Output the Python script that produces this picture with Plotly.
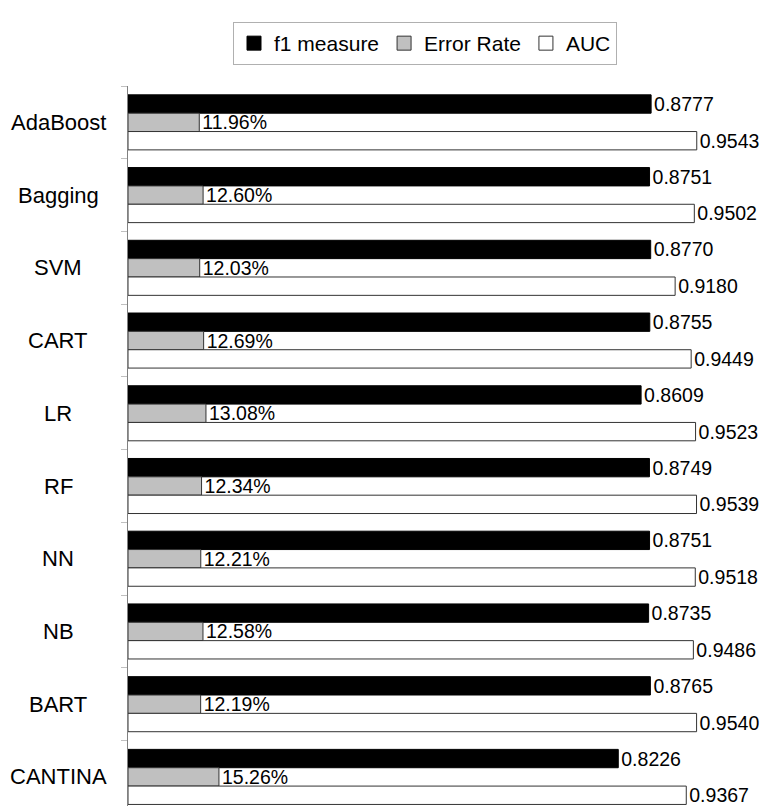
import plotly.graph_objects as go

# Classifier comparison: F1, error rate and AUC per method
methods = ["AdaBoost", "Bagging", "SVM", "CART", "LR", "RF", "NN", "NB", "BART", "CANTINA"]
f1_measure = [0.8777, 0.8751, 0.8770, 0.8755, 0.8609, 0.8749, 0.8751, 0.8735, 0.8765, 0.8226]
error_rate = [0.1196, 0.1260, 0.1203, 0.1269, 0.1308, 0.1234, 0.1221, 0.1258, 0.1219, 0.1526]
auc = [0.9543, 0.9502, 0.9180, 0.9449, 0.9523, 0.9539, 0.9518, 0.9486, 0.9540, 0.9367]

series_names = ["f1 measure", "Error Rate", "AUC"]
fill_colors = ["black", "#c0c0c0", "white"]
edge_colors = ["black", "#333333", "#333333"]
formats = ["%{x:.4f}", "%{x:.2%}", "%{x:.4f}"]

FONT = "Liberation Sans, Arial, sans-serif"
VALUE_FONT = dict(family=FONT, size=19.5, color="black")

fig = go.Figure()
for name, vals, fc, ec, fmt in zip(series_names, [f1_measure, error_rate, auc],
                                   fill_colors, edge_colors, formats):
    fig.add_trace(go.Bar(
        name=name, y=methods, x=vals, orientation="h",
        marker=dict(color=fc, line=dict(color=ec, width=1)),
        texttemplate=fmt, textposition="outside", textfont=VALUE_FONT,
        constraintext="none", cliponaxis=False, showlegend=False,
    ))
# Legend entries with larger square swatches
for name, fc, ec in zip(series_names, fill_colors, edge_colors):
    fig.add_trace(go.Scatter(
        name=name, x=[None], y=[None], mode="markers",
        marker=dict(symbol="square", size=14, color=fc, line=dict(color=ec, width=1)),
        showlegend=True,
    ))

# Category names centred in the left margin
for m in methods:
    fig.add_annotation(
        x=0, xref="paper", y=m, yref="y", text=m, showarrow=False,
        xanchor="center", xshift=-70,
        font=dict(family=FONT, size=22, color="black"),
    )

fig.update_layout(
    width=764, height=806,
    margin=dict(l=128, r=40, t=86, b=0),
    paper_bgcolor="white", plot_bgcolor="white",
    barmode="group", bargap=0.243, bargroupgap=0,
    font=dict(family=FONT, color="black"),
    showlegend=True,
    legend=dict(
        orientation="h", xref="container", yref="container",
        x=425 / 764, xanchor="center", y=1 - 22 / 806, yanchor="top",
        bordercolor="#b0b0b0", borderwidth=1,
        font=dict(family=FONT, size=21, color="black"),
        traceorder="normal", itemwidth=30,
    ),
    xaxis=dict(range=[0, 1], visible=False, fixedrange=True),
    yaxis=dict(
        type="category", categoryorder="array", categoryarray=methods,
        range=[9.4, -0.5], autorange=False,
        showticklabels=False, showgrid=False, zeroline=False,
        showline=True, linecolor="#808080", linewidth=1,
        ticks="outside", tickson="boundaries", ticklen=6, tickcolor="#c0c0c0",
    ),
)

fig.write_html("out.html")
